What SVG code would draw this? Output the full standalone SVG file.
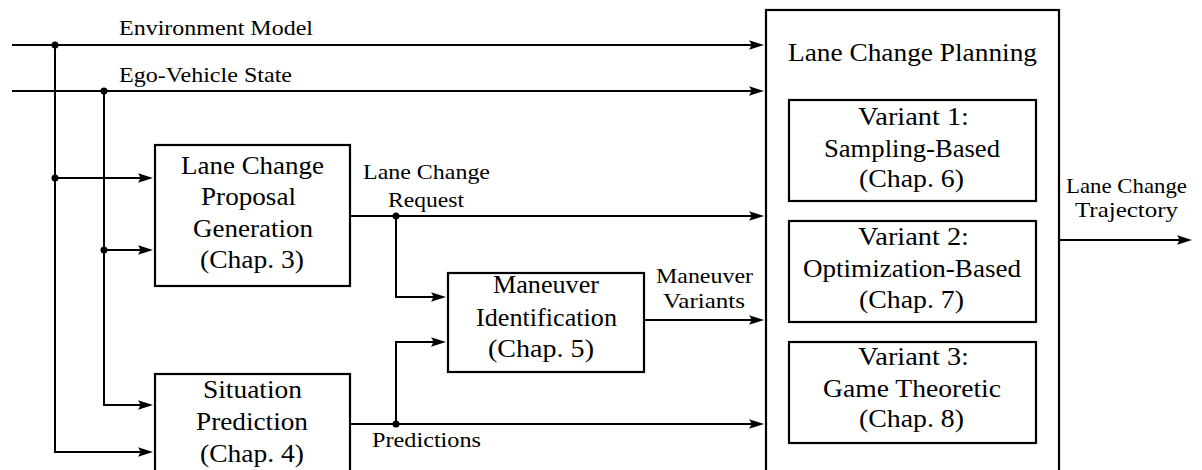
<svg xmlns="http://www.w3.org/2000/svg" width="1202" height="470" viewBox="0 0 1202 470">
  <style>
    .box { fill: #fff; stroke: #000; stroke-width: 2.2; }
    .arr { fill: none; stroke: #000; stroke-width: 2; marker-end: url(#head); }
    .dot { fill: #000; }
  </style>
  <defs>
    <marker id="head" markerUnits="userSpaceOnUse" markerWidth="30" markerHeight="20" refX="0" refY="0" viewBox="-10 -10 30 20" orient="auto" overflow="visible">
      <path d="M9,0 L-6,-4.8 Q-2,0 -6,4.8 Z" fill="#000"/>
    </marker>
  </defs>
  <rect width="1202" height="470" fill="#fff"/>

  <!-- signal wires and arrows -->
  <g id="connectors">
    <!-- environment model bus -->
    <line class="arr" x1="12" y1="45" x2="755" y2="45"/>
    <path class="arr" d="M55,45 V452 H144"/>
    <line class="arr" x1="55" y1="178" x2="144" y2="178"/>
    <!-- ego-vehicle state bus -->
    <line class="arr" x1="12" y1="91" x2="755" y2="91"/>
    <path class="arr" d="M104,91 V405 H144"/>
    <line class="arr" x1="104" y1="250" x2="144" y2="250"/>
    <!-- lane change request -->
    <line class="arr" x1="350" y1="216" x2="755" y2="216"/>
    <path class="arr" d="M396,216 V297 H437"/>
    <!-- predictions -->
    <line class="arr" x1="350" y1="424" x2="755" y2="424"/>
    <path class="arr" d="M396,424 V342 H437"/>
    <!-- maneuver variants -->
    <line class="arr" x1="644" y1="320" x2="755" y2="320"/>
    <!-- trajectory output -->
    <line class="arr" x1="1059" y1="240" x2="1183" y2="240"/>

    <circle class="dot" cx="55" cy="45" r="3.5"/>
    <circle class="dot" cx="55" cy="178" r="3.5"/>
    <circle class="dot" cx="104" cy="91" r="3.5"/>
    <circle class="dot" cx="104" cy="250" r="3.5"/>
    <circle class="dot" cx="396" cy="216" r="3.5"/>
    <circle class="dot" cx="396" cy="424" r="3.5"/>

    <text font-family="Liberation Serif" font-size="21" x="119" y="35" textLength="194" lengthAdjust="spacingAndGlyphs">Environment Model</text>
    <text font-family="Liberation Serif" font-size="21" x="119" y="82" textLength="173" lengthAdjust="spacingAndGlyphs">Ego-Vehicle State</text>
    <text font-family="Liberation Serif" font-size="21" x="363" y="179" textLength="127" lengthAdjust="spacingAndGlyphs">Lane Change</text>
    <text font-family="Liberation Serif" font-size="21" x="388" y="207" textLength="76" lengthAdjust="spacingAndGlyphs">Request</text>
    <text font-family="Liberation Serif" font-size="21" x="372" y="447" textLength="109" lengthAdjust="spacingAndGlyphs">Predictions</text>
    <text font-family="Liberation Serif" font-size="21" x="656" y="283" textLength="97" lengthAdjust="spacingAndGlyphs">Maneuver</text>
    <text font-family="Liberation Serif" font-size="21" x="663" y="308" textLength="82" lengthAdjust="spacingAndGlyphs">Variants</text>
    <text font-family="Liberation Serif" font-size="21" x="1066" y="193" textLength="121" lengthAdjust="spacingAndGlyphs">Lane Change</text>
    <text font-family="Liberation Serif" font-size="21" x="1075" y="217" textLength="103" lengthAdjust="spacingAndGlyphs">Trajectory</text>
  </g>

  <g id="proposal">
    <rect class="box" x="155" y="145" width="195" height="141"/>
    <text font-family="Liberation Serif" font-size="24.5" x="181" y="174" textLength="143" lengthAdjust="spacingAndGlyphs">Lane Change</text>
    <text font-family="Liberation Serif" font-size="24.5" x="201" y="205" textLength="95" lengthAdjust="spacingAndGlyphs">Proposal</text>
    <text font-family="Liberation Serif" font-size="24.5" x="193" y="237" textLength="120" lengthAdjust="spacingAndGlyphs">Generation</text>
    <text font-family="Liberation Serif" font-size="24.5" x="200" y="268" textLength="104" lengthAdjust="spacingAndGlyphs">(Chap. 3)</text>
  </g>

  <g id="prediction">
    <rect class="box" x="155" y="374" width="195" height="110"/>
    <text font-family="Liberation Serif" font-size="24.5" x="203" y="398" textLength="99" lengthAdjust="spacingAndGlyphs">Situation</text>
    <text font-family="Liberation Serif" font-size="24.5" x="196" y="430" textLength="112" lengthAdjust="spacingAndGlyphs">Prediction</text>
    <text font-family="Liberation Serif" font-size="24.5" x="200" y="462" textLength="104" lengthAdjust="spacingAndGlyphs">(Chap. 4)</text>
  </g>

  <g id="maneuver">
    <rect class="box" x="448" y="273" width="196" height="99"/>
    <text font-family="Liberation Serif" font-size="24.5" x="493" y="293" textLength="106" lengthAdjust="spacingAndGlyphs">Maneuver</text>
    <text font-family="Liberation Serif" font-size="24.5" x="476" y="326" textLength="141" lengthAdjust="spacingAndGlyphs">Identification</text>
    <text font-family="Liberation Serif" font-size="24.5" x="488" y="357" textLength="106" lengthAdjust="spacingAndGlyphs">(Chap. 5)</text>
  </g>

  <g id="planning">
    <rect class="box" x="766" y="10" width="293" height="475"/>
    <text font-family="Liberation Serif" font-size="24.5" x="788" y="61" textLength="249" lengthAdjust="spacingAndGlyphs">Lane Change Planning</text>
  </g>

  <g id="variant1">
    <rect class="box" x="789" y="100" width="247" height="101"/>
    <text font-family="Liberation Serif" font-size="24.5" x="858" y="125" textLength="111" lengthAdjust="spacingAndGlyphs">Variant 1:</text>
    <text font-family="Liberation Serif" font-size="24.5" x="824" y="157" textLength="176" lengthAdjust="spacingAndGlyphs">Sampling-Based</text>
    <text font-family="Liberation Serif" font-size="24.5" x="859" y="187" textLength="105" lengthAdjust="spacingAndGlyphs">(Chap. 6)</text>
  </g>

  <g id="variant2">
    <rect class="box" x="789" y="221" width="247" height="101"/>
    <text font-family="Liberation Serif" font-size="24.5" x="858" y="245" textLength="111" lengthAdjust="spacingAndGlyphs">Variant 2:</text>
    <text font-family="Liberation Serif" font-size="24.5" x="803" y="277" textLength="218" lengthAdjust="spacingAndGlyphs">Optimization-Based</text>
    <text font-family="Liberation Serif" font-size="24.5" x="859" y="308" textLength="105" lengthAdjust="spacingAndGlyphs">(Chap. 7)</text>
  </g>

  <g id="variant3">
    <rect class="box" x="789" y="342" width="247" height="101"/>
    <text font-family="Liberation Serif" font-size="24.5" x="858" y="365" textLength="111" lengthAdjust="spacingAndGlyphs">Variant 3:</text>
    <text font-family="Liberation Serif" font-size="24.5" x="823" y="397" textLength="178" lengthAdjust="spacingAndGlyphs">Game Theoretic</text>
    <text font-family="Liberation Serif" font-size="24.5" x="859" y="427" textLength="105" lengthAdjust="spacingAndGlyphs">(Chap. 8)</text>
  </g>
</svg>
